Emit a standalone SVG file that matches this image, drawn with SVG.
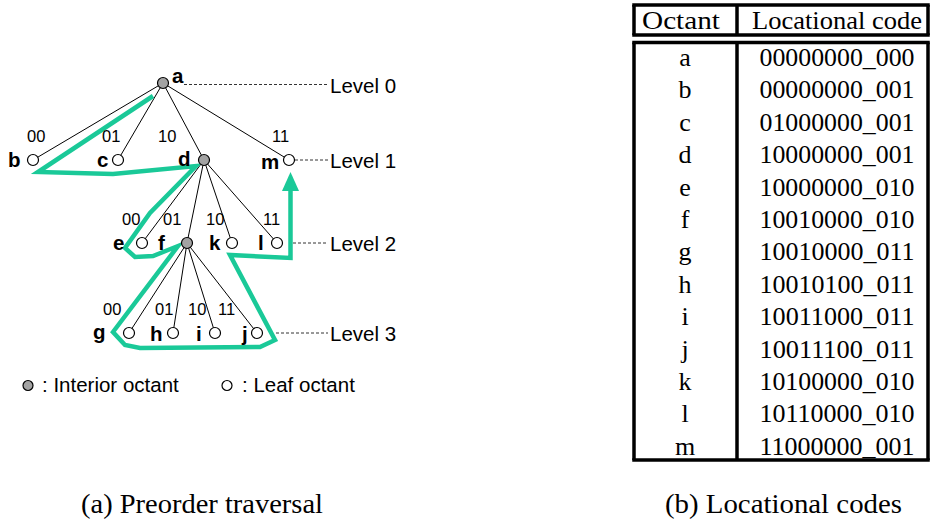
<svg xmlns="http://www.w3.org/2000/svg" width="930" height="520" viewBox="0 0 930 520">
  <style>
    .edge{stroke:#000;stroke-width:1;fill:none}
    .lvl{stroke:#333;stroke-width:1;stroke-dasharray:3 2;fill:none}
    .leaf{fill:#fff;stroke:#000;stroke-width:1.2}
    .inner{fill:#a3a3a3;stroke:#000;stroke-width:1.2}
    .nl{font-family:"Liberation Sans",Arial,sans-serif;font-weight:bold;font-size:20.5px;fill:#000}
    .el{font-family:"Liberation Sans",Arial,sans-serif;font-size:16.5px;fill:#000}
    .lt{font-family:"Liberation Sans",Arial,sans-serif;font-size:20.5px;fill:#000}
    .tr{font-family:"Liberation Serif","Times New Roman",serif;font-size:26px;fill:#000}
    .cap{font-family:"Liberation Serif","Times New Roman",serif;font-size:27.5px;fill:#000}
    .rule{stroke:#000;stroke-width:3.5;fill:none}
    .walk{fill:none;stroke:#1ac998;stroke-width:4.5;stroke-linejoin:miter;stroke-miterlimit:10}
  </style>

  <!-- tree edges, level guides, traversal path -->
  <g id="connectors">
    <g class="edge">
      <line x1="163" y1="83" x2="33" y2="160"/>
      <line x1="163" y1="83" x2="118" y2="160"/>
      <line x1="163" y1="83" x2="204" y2="160"/>
      <line x1="163" y1="83" x2="289" y2="160"/>
      <line x1="204" y1="160" x2="142" y2="243"/>
      <line x1="204" y1="160" x2="187" y2="243"/>
      <line x1="204" y1="160" x2="232" y2="243"/>
      <line x1="204" y1="160" x2="277" y2="243"/>
      <line x1="187" y1="243" x2="129" y2="333"/>
      <line x1="187" y1="243" x2="173" y2="333"/>
      <line x1="187" y1="243" x2="215" y2="333"/>
      <line x1="187" y1="243" x2="257" y2="333"/>
    </g>
    <g class="lvl">
      <line x1="184" y1="84.5" x2="328" y2="84.5"/>
      <line x1="295" y1="160" x2="328" y2="160"/>
      <line x1="293" y1="243" x2="328" y2="243"/>
      <line x1="276" y1="333" x2="328" y2="333"/>
    </g>
    <path class="walk" d="M153,96 L38,172 L113,174 L196,166 L150,213 L125,248 L135,257 L153,256 L178,246 L113,332 L125,345 L140,348 L260,347 L275,340 L230,255 L290.5,258 L290.5,189"/>
    <polygon points="290.5,172 282,191 299,191" fill="#1ac998"/>
  </g>

  <!-- edge codes -->
  <g id="edge-labels" class="el">
    <text x="27" y="142">00</text>
    <text x="102" y="142">01</text>
    <text x="158" y="142">10</text>
    <text x="272" y="142">11</text>
    <text x="122" y="225">00</text>
    <text x="163" y="225">01</text>
    <text x="206" y="225">10</text>
    <text x="263" y="225">11</text>
    <text x="103" y="315">00</text>
    <text x="155" y="315">01</text>
    <text x="188" y="315">10</text>
    <text x="218" y="315">11</text>
  </g>

  <!-- level captions -->
  <g id="levels" class="lt">
    <text x="330" y="93">Level 0</text>
    <text x="330" y="168">Level 1</text>
    <text x="330" y="251">Level 2</text>
    <text x="330" y="341">Level 3</text>
  </g>

  <!-- octree nodes -->
  <g id="node-a"><circle class="inner" cx="163" cy="83" r="5.5"/><text class="nl" x="172" y="83">a</text></g>
  <g id="node-b"><circle class="leaf" cx="33" cy="160" r="5.5"/><text class="nl" x="8" y="167">b</text></g>
  <g id="node-c"><circle class="leaf" cx="118" cy="160" r="5.5"/><text class="nl" x="97" y="167">c</text></g>
  <g id="node-d"><circle class="inner" cx="204" cy="160" r="5.5"/><text class="nl" x="178" y="166">d</text></g>
  <g id="node-m"><circle class="leaf" cx="289" cy="160" r="5.5"/><text class="nl" x="261" y="169">m</text></g>
  <g id="node-e"><circle class="leaf" cx="142" cy="243" r="5.5"/><text class="nl" x="113" y="250">e</text></g>
  <g id="node-f"><circle class="inner" cx="187" cy="243" r="5.5"/><text class="nl" x="158" y="250">f</text></g>
  <g id="node-k"><circle class="leaf" cx="232" cy="243" r="5.5"/><text class="nl" x="209" y="250">k</text></g>
  <g id="node-l"><circle class="leaf" cx="277" cy="243" r="5.5"/><text class="nl" x="258" y="250">l</text></g>
  <g id="node-g"><circle class="leaf" cx="129" cy="333" r="5.5"/><text class="nl" x="93" y="339">g</text></g>
  <g id="node-h"><circle class="leaf" cx="173" cy="333" r="5.5"/><text class="nl" x="150" y="341">h</text></g>
  <g id="node-i"><circle class="leaf" cx="215" cy="333" r="5.5"/><text class="nl" x="196" y="341">i</text></g>
  <g id="node-j"><circle class="leaf" cx="257" cy="333" r="5.5"/><text class="nl" x="242" y="341">j</text></g>

  <!-- legend -->
  <g id="legend" class="lt">
    <circle class="inner" cx="28" cy="385.5" r="5"/>
    <text x="42" y="392">: Interior octant</text>
    <circle class="leaf" cx="227" cy="385.5" r="5"/>
    <text x="242" y="392">: Leaf octant</text>
  </g>

  <!-- locational code table -->
  <g id="table">
    <g class="rule">
      <line x1="632.25" y1="5" x2="929.75" y2="5"/>
      <line x1="632.25" y1="35" x2="929.75" y2="35"/>
      <line x1="634" y1="5" x2="634" y2="35"/>
      <line x1="737" y1="5" x2="737" y2="35"/>
      <line x1="928" y1="5" x2="928" y2="35"/>
      <line x1="632.25" y1="42.5" x2="929.75" y2="42.5"/>
      <line x1="632.25" y1="460" x2="929.75" y2="460"/>
      <line x1="634" y1="42.5" x2="634" y2="460"/>
      <line x1="737" y1="42.5" x2="737" y2="460"/>
      <line x1="928" y1="42.5" x2="928" y2="460"/>
    </g>
    <g class="tr" text-anchor="middle">
      <text x="681" y="29" textLength="78" lengthAdjust="spacingAndGlyphs">Octant</text>
      <text x="837" y="29" textLength="170" lengthAdjust="spacingAndGlyphs">Locational code</text>

      <text x="685" y="66">a</text>
      <text x="685" y="98.4">b</text>
      <text x="685" y="130.8">c</text>
      <text x="685" y="163.2">d</text>
      <text x="685" y="195.6">e</text>
      <text x="685" y="228">f</text>
      <text x="685" y="260.4">g</text>
      <text x="685" y="292.8">h</text>
      <text x="685" y="325.2">i</text>
      <text x="685" y="357.6">j</text>
      <text x="685" y="390">k</text>
      <text x="685" y="422.4">l</text>
      <text x="685" y="454.8">m</text>
    </g>
    <g class="tr" text-anchor="middle">
      <text x="837" y="66" textLength="155" lengthAdjust="spacingAndGlyphs">00000000_000</text>
      <text x="837" y="98.4" textLength="155" lengthAdjust="spacingAndGlyphs">00000000_001</text>
      <text x="837" y="130.8" textLength="155" lengthAdjust="spacingAndGlyphs">01000000_001</text>
      <text x="837" y="163.2" textLength="155" lengthAdjust="spacingAndGlyphs">10000000_001</text>
      <text x="837" y="195.6" textLength="155" lengthAdjust="spacingAndGlyphs">10000000_010</text>
      <text x="837" y="228" textLength="155" lengthAdjust="spacingAndGlyphs">10010000_010</text>
      <text x="837" y="260.4" textLength="155" lengthAdjust="spacingAndGlyphs">10010000_011</text>
      <text x="837" y="292.8" textLength="155" lengthAdjust="spacingAndGlyphs">10010100_011</text>
      <text x="837" y="325.2" textLength="155" lengthAdjust="spacingAndGlyphs">10011000_011</text>
      <text x="837" y="357.6" textLength="155" lengthAdjust="spacingAndGlyphs">10011100_011</text>
      <text x="837" y="390" textLength="155" lengthAdjust="spacingAndGlyphs">10100000_010</text>
      <text x="837" y="422.4" textLength="155" lengthAdjust="spacingAndGlyphs">10110000_010</text>
      <text x="837" y="454.8" textLength="155" lengthAdjust="spacingAndGlyphs">11000000_001</text>
    </g>
  </g>

  <!-- sub-figure captions -->
  <g id="captions" class="cap">
    <text x="81" y="513" textLength="242" lengthAdjust="spacingAndGlyphs">(a) Preorder traversal</text>
    <text x="665" y="513" textLength="237" lengthAdjust="spacingAndGlyphs">(b) Locational codes</text>
  </g>
</svg>
